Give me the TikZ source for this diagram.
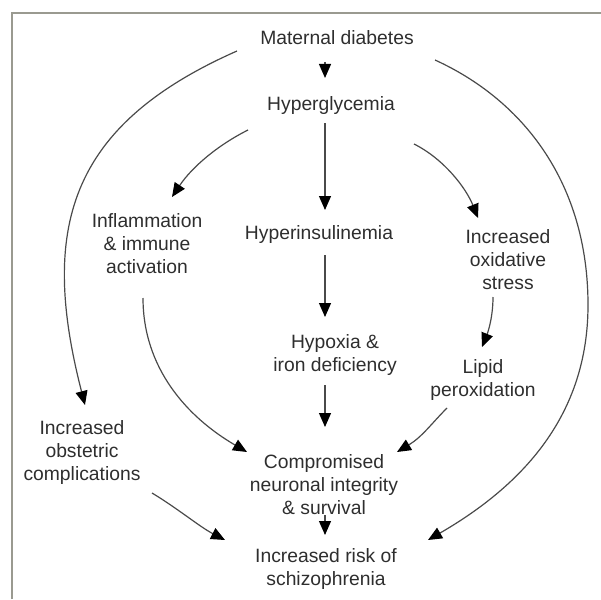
\documentclass[tikz,border=0pt]{standalone}
\usepackage{fontspec}
\setmainfont{Liberation Sans}
\usetikzlibrary{arrows.meta}
\definecolor{txt}{HTML}{2E2E2E}
\definecolor{ln}{HTML}{4A4A4A}
\definecolor{frm}{HTML}{9A9A90}
\begin{document}
\begin{tikzpicture}[x=1pt,y=-1pt,
  lbl/.style={align=center, inner sep=0pt, font=\fontsize{19.3}{23}\selectfont, text=txt},
  arr/.style={draw=ln, line width=1.2pt, -{Triangle[length=14pt,width=12pt,color=black]}},
  frame/.style={draw=frm, line width=2pt}]
\useasboundingbox (0,0) rectangle (601,599);
\draw[frame] (12,599) -- (12,13) -- (601,13);

\node[lbl] (md)  at (337,38)  {Maternal diabetes};
\node[lbl] (hg)  at (331,106) {Hyperglycemia};
\node[lbl] (hi)  at (319,235) {Hyperinsulinemia};
\node[lbl] (hx)  at (335,355) {Hypoxia \&\\iron deficiency};
\node[lbl] (cn)  at (324,485) {Compromised\\neuronal integrity\\\& survival};
\node[lbl] (rs)  at (326,569) {Increased risk of\\schizophrenia};
\node[lbl] (inf) at (147,244) {Inflammation\\\& immune\\activation};
\node[lbl] (ox)  at (508,260) {Increased\\oxidative\\stress};
\node[lbl] (lp)  at (483,380) {Lipid\\peroxidation};
\node[lbl] (ob)  at (82,453)  {Increased\\obstetric\\complications};

% central chain
\draw[arr] ([xshift=-12pt,yshift=-24pt]md.center) -- ([xshift=-6pt,yshift=28pt]hg.center);
\draw[arr] ([xshift=-6pt,yshift=-17pt]hg.center) -- ([xshift=6pt,yshift=25pt]hi.center);
\draw[arr] ([xshift=6pt,yshift=-20pt]hi.center) -- ([xshift=-10pt,yshift=38pt]hx.center);
\draw[arr] ([xshift=-10pt,yshift=-30pt]hx.center) -- ([xshift=1pt,yshift=58pt]cn.center);
\draw[arr] ([xshift=1pt,yshift=-30pt]cn.center) -- ([xshift=-1pt,yshift=34pt]rs.center);

% side branches
\draw[arr] ([xshift=-83pt,yshift=-24pt]hg.center) .. controls +(-30,15) and +(20,-30) .. ([xshift=25pt,yshift=47pt]inf.center);
\draw[arr] ([xshift=83pt,yshift=-38pt]hg.center) .. controls +(30,15) and +(-12,-30) .. ([xshift=-30pt,yshift=42pt]ox.center);
\draw[arr] ([xshift=-15pt,yshift=-37pt]ox.center) .. controls +(0,20) and +(6,-15) .. ([xshift=-1pt,yshift=33pt]lp.center);
\draw[arr] ([xshift=-4pt,yshift=-54pt]inf.center) .. controls +(0,70) and +(-60,-35) .. ([xshift=-77pt,yshift=33pt]cn.center);
\draw[arr] ([xshift=-36pt,yshift=-28pt]lp.center) .. controls +(-15,15) and +(25,-15) .. ([xshift=73pt,yshift=33pt]cn.center);
\draw[arr] ([xshift=70pt,yshift=-40pt]ob.center) .. controls +(25,15) and +(-25,-13) .. ([xshift=-101pt,yshift=29pt]rs.center);

% big arcs
\draw[arr] ([xshift=-100pt,yshift=-13pt]md.center) .. controls +(-170,75) and +(-45,-175) .. ([xshift=3pt,yshift=48pt]ob.center);
\draw[arr] ([xshift=98pt,yshift=-22pt]md.center) .. controls +(90,41) and +(0,-120) .. (588,305)
  .. controls +(0,110) and +(95,-55) .. ([xshift=102pt,yshift=29pt]rs.center);
\end{tikzpicture}
\end{document}
